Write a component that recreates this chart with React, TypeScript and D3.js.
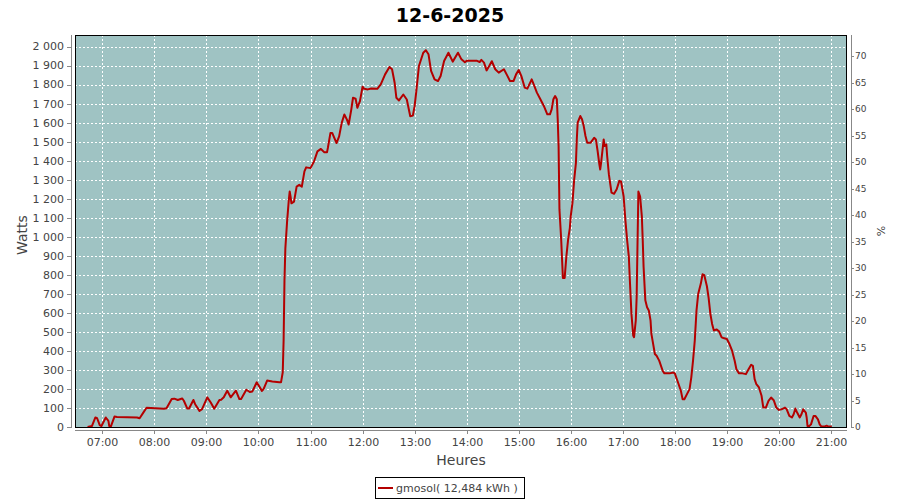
import React from "react";
import * as d3 from "d3";

const title = "12-6-2025";
const legendLabel = "gmosol( 12,484 kWh )";
const xLabel = "Heures";
const yLabel = "Watts";
const y2Label = "%";

const times = [
  "06:43","06:48","06:52","06:54","06:57","06:59","07:04","07:07","07:08","07:10","07:14","07:17","07:40","07:43","07:48","07:51",
  "08:11","08:14","08:20","08:23","08:27","08:32","08:34","08:38","08:40","08:45","08:47","08:52","08:55",
  "09:01","09:05","09:09","09:15","09:17","09:20","09:24","09:28","09:34","09:38","09:40","09:46","09:50","09:53","09:58",
  "10:04","10:06","10:10","10:16","10:24","10:26","10:28","10:29","10:30","10:31","10:33","10:35","10:36","10:37","10:38","10:41","10:44","10:47","10:50","10:53","10:55",
  "11:00","11:04","11:08","11:12","11:16","11:19","11:20","11:23","11:25","11:30","11:33","11:36","11:39","11:42","11:44","11:47","11:49","11:52","11:54","11:57",
  "12:00","12:02","12:06","12:10","12:17","12:21","12:26","12:31","12:34","12:37","12:39","12:42","12:47","12:51","12:55","12:58",
  "13:00","13:02","13:05","13:10","13:13","13:16","13:19","13:23","13:27","13:30","13:34","13:39","13:44","13:50","13:54","13:58",
  "14:00","14:12","14:15","14:17","14:20","14:23","14:26","14:29","14:33","14:37","14:43","14:47","14:50","14:54","14:57",
  "15:00","15:03","15:07","15:10","15:15","15:18","15:21","15:25","15:29","15:33","15:36","15:38","15:40","15:42","15:44","15:45","15:46","15:47","15:49","15:50","15:51","15:53","15:55","15:57","15:59",
  "16:00","16:02","16:04","16:06","16:07","16:08","16:11","16:13","16:15","16:17","16:19","16:23","16:27","16:29","16:31","16:33","16:34","16:35","16:38","16:39","16:41","16:42","16:44","16:47","16:50","16:53","16:56","16:58",
  "17:01","17:03","17:05","17:07","17:08","17:09","17:10","17:12","17:13","17:15","17:16","17:17","17:18","17:20","17:22","17:23","17:24","17:26","17:28","17:30","17:32","17:33","17:35","17:37","17:39","17:42","17:46","17:48","17:54","17:58",
  "18:00","18:03","18:07","18:09","18:11","18:14","18:17","18:19","18:21","18:23","18:25","18:27","18:30","18:32","18:34","18:37","18:39","18:41","18:43","18:45","18:48","18:51","18:54","18:56",
  "19:00","19:03","19:06","19:09","19:11","19:14","19:18","19:22","19:25","19:28","19:30","19:32","19:34","19:37","19:40","19:42","19:45","19:48","19:51","19:54","19:57",
  "20:00","20:03","20:07","20:09","20:12","20:15","20:17","20:19","20:21","20:24","20:26","20:28","20:31","20:32","20:33","20:35","20:37","20:40","20:42","20:45","20:47","20:49","20:52","20:55","20:57","21:01"
];

const watts = [
  0,5,50,46,10,5,50,32,5,5,55,53,50,46,81,101,
  96,99,147,149,142,150,138,97,97,142,120,85,94,
  156,129,96,142,143,156,191,156,191,147,147,196,184,187,235,
  190,200,244,239,235,235,288,455,772,939,1080,1194,1238,1212,1176,1185,1264,1273,1264,1344,1365,
  1361,1396,1449,1462,1444,1444,1467,1546,1546,1493,1528,1599,1643,1616,1590,1669,1731,1726,1678,1713,
  1789,1778,1775,1780,1778,1801,1854,1893,1881,1810,1731,1717,1748,1722,1634,1637,
  1687,1766,1898,1968,1981,1960,1872,1828,1819,1845,1924,1968,1921,1968,1933,1918,
  1925,1925,1919,1930,1916,1875,1898,1923,1881,1863,1881,1846,1819,1819,1854,
  1877,1846,1784,1779,1828,1793,1758,1723,1688,1644,1644,1670,1723,1740,1723,1618,1477,1144,986,881,784,784,898,986,1047,
  1109,1179,1302,1389,1512,1600,1635,1618,1582,1530,1495,1495,1521,1512,1451,1381,1354,1389,1512,1477,1486,1425,1328,1232,1226,1250,1294,1291,
  1212,1088,983,895,789,692,595,481,472,560,683,965,1238,1212,1106,983,842,666,630,613,560,490,437,384,375,349,296,282,282,287,
  282,243,190,146,146,173,199,261,349,454,613,701,754,803,798,740,678,594,542,507,513,503,471,468,
  463,436,401,348,304,282,282,278,304,327,322,252,225,208,164,102,102,137,155,141,102,
  90,93,102,93,58,50,67,97,76,50,67,93,76,50,5,5,14,58,58,40,14,2,2,7,2,2
];

const xTickLabels = ["07:00","08:00","09:00","10:00","11:00","12:00","13:00","14:00","15:00","16:00","17:00","18:00","19:00","20:00","21:00"];
const yTicks = d3.range(0, 2001, 100);
const y2Ticks = d3.range(0, 71, 5);

const toDate = (s: string) => {
  const [h, m] = s.split(":").map(Number);
  return new Date(2025, 5, 12, h, m, 0);
};

export default function App() {
  const W = 900, H = 500;
  const L = 75, R = 847, T = 35, B = 427;

  const x = d3.scaleTime()
    .domain([new Date(2025, 5, 12, 6, 28, 30), new Date(2025, 5, 12, 21, 18, 30)])
    .range([L, R]);
  const y = d3.scaleLinear().domain([0, 2061]).range([B, T]);
  const y2 = d3.scaleLinear().domain([0, 74]).range([B, T]);

  const data = times.map((t, i) => ({ t: toDate(t), v: watts[i] }));
  const line = d3.line<{ t: Date; v: number }>()
    .x(d => x(d.t))
    .y(d => y(d.v));

  const loc = d3.formatLocale({ decimal: ",", thousands: " ", grouping: [3], currency: ["", ""] });
  const fmt = loc.format(",d");

  const font = "'DejaVu Sans', sans-serif";
  const axisCol = "#888888";
  const labCol = "#444444";

  return (
    <svg width={W} height={H} style={{ display: "block", position: "absolute", left: 0, top: 0 }} fontFamily={font}>
      <rect x={0} y={0} width={W} height={H} fill="#ffffff" />
      <text x={450} y={22} textAnchor="middle" fontSize={19} fontWeight="bold" fill="#000">{title}</text>

      <defs>
        <clipPath id="plotclip">
          <rect x={L} y={T} width={R - L} height={B - T} />
        </clipPath>
      </defs>

      <rect x={L} y={T} width={R - L} height={B - T} fill="#9fc3c3" />
      {yTicks.map(t => (
        <line key={"gy" + t} x1={L} x2={R} y1={Math.round(y(t)) + 0.5} y2={Math.round(y(t)) + 0.5}
          stroke="#ffffff" strokeWidth={1} strokeDasharray="2,2" />
      ))}
      {xTickLabels.map(s => {
        const xx = Math.round(x(toDate(s))) + 0.5;
        return <line key={"gx" + s} x1={xx} x2={xx} y1={T} y2={B} stroke="#ffffff" strokeWidth={1} strokeDasharray="2,2" />;
      })}

      <path d={line(data) || ""} fill="none" stroke="#b40000" strokeWidth={2} strokeLinejoin="round" clipPath="url(#plotclip)" />

      <rect x={L + 0.5} y={T + 0.5} width={R - L - 1} height={B - T} fill="none" stroke="#000" strokeWidth={1} />

      {/* left axis */}
      <line x1={71.5} x2={71.5} y1={T} y2={B + 1} stroke={axisCol} strokeWidth={1} />
      {yTicks.map(t => (
        <g key={"ly" + t}>
          <line x1={67} x2={71} y1={Math.round(y(t)) + 0.5} y2={Math.round(y(t)) + 0.5} stroke={axisCol} />
          <text x={64} y={y(t)} dy="0.35em" textAnchor="end" fontSize={11} fill={labCol}>{fmt(t)}</text>
        </g>
      ))}
      <text transform={`translate(27,235) rotate(-90)`} textAnchor="middle" fontSize={14} fill={labCol}>{yLabel}</text>

      {/* right axis */}
      <line x1={851.5} x2={851.5} y1={T} y2={B + 1} stroke={axisCol} strokeWidth={1} />
      {y2Ticks.map(t => (
        <g key={"ry" + t}>
          <line x1={852} x2={854} y1={Math.round(y2(t)) + 0.5} y2={Math.round(y2(t)) + 0.5} stroke={axisCol} />
          <text x={855} y={y2(t)} dy="0.35em" textAnchor="start" fontSize={9} fill={labCol}>{t}</text>
        </g>
      ))}
      <text transform={`translate(885,231) rotate(-90)`} textAnchor="middle" fontSize={11} fill={labCol}>{y2Label}</text>

      {/* bottom axis */}
      <line x1={L} x2={R} y1={430.5} y2={430.5} stroke={axisCol} strokeWidth={1} />
      {xTickLabels.map(s => {
        const xx = Math.round(x(toDate(s))) + 0.5;
        return (
          <g key={"bx" + s}>
            <line x1={xx} x2={xx} y1={431} y2={434} stroke={axisCol} />
            <text x={xx} y={446} textAnchor="middle" fontSize={11} fill={labCol}>{s}</text>
          </g>
        );
      })}
      <text x={461} y={465} textAnchor="middle" fontSize={14} fill={labCol}>{xLabel}</text>

      {/* legend */}
      <rect x={375.5} y={477.5} width={149} height={21} fill="#ffffff" stroke="#000" strokeWidth={1} />
      <line x1={378} x2={393} y1={488} y2={488} stroke="#b40000" strokeWidth={2} />
      <text x={396} y={492} fontSize={11} fill={labCol}>{legendLabel}</text>
    </svg>
  );
}
